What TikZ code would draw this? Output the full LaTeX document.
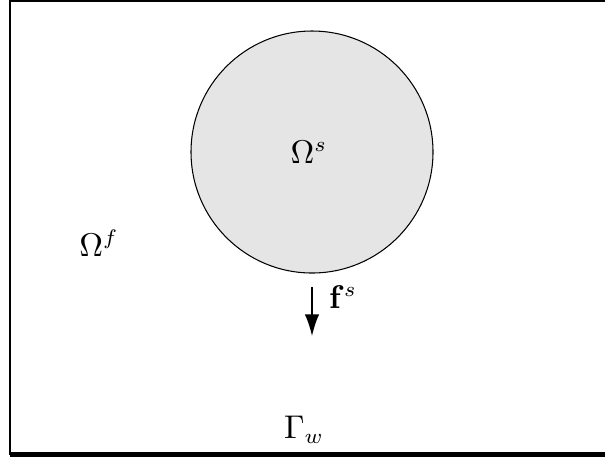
\documentclass[tikz,border=0pt]{standalone}
\usetikzlibrary{arrows.meta}
\begin{document}
\begin{tikzpicture}[x=0.3333pt,y=-0.3333pt,
  wall/.style={line width=0.7pt},
  floor/.style={line width=1.7pt},
  solid/.style={draw,line width=0.35pt,fill=black!10},
  force/.style={line width=0.45pt,-{Latex[length=7.2pt,width=4.8pt]}},
  lbl/.style={inner sep=0pt,font=\fontsize{10.5}{12}\selectfont}]
\useasboundingbox (0,0) rectangle (605,457);
\coordinate (tl) at (10,1.2);
\coordinate (tr) at (620,1.2);
\coordinate (bl) at (10,454.5);
\coordinate (br) at (620,454.5);
\draw[wall] (tr) -- (tl) -- (bl);
\draw[floor] (bl) -- (br);
\node[solid,circle,minimum size=242*0.3333pt,inner sep=0pt] (c) at (312,152) {};
\node[lbl] (os) at (309,152) {$\Omega^s$};
\node[lbl] (of) at (99,243) {$\Omega^f$};
\node[lbl] (gw) at (304,430) {$\Gamma_w$};
\coordinate (a1) at (312,287);
\coordinate (a2) at (312,336);
\draw[force] (a1) -- (a2);
\node[lbl] (fs) at (343,297) {$\mathbf{f}^s$};
\end{tikzpicture}
\end{document}
